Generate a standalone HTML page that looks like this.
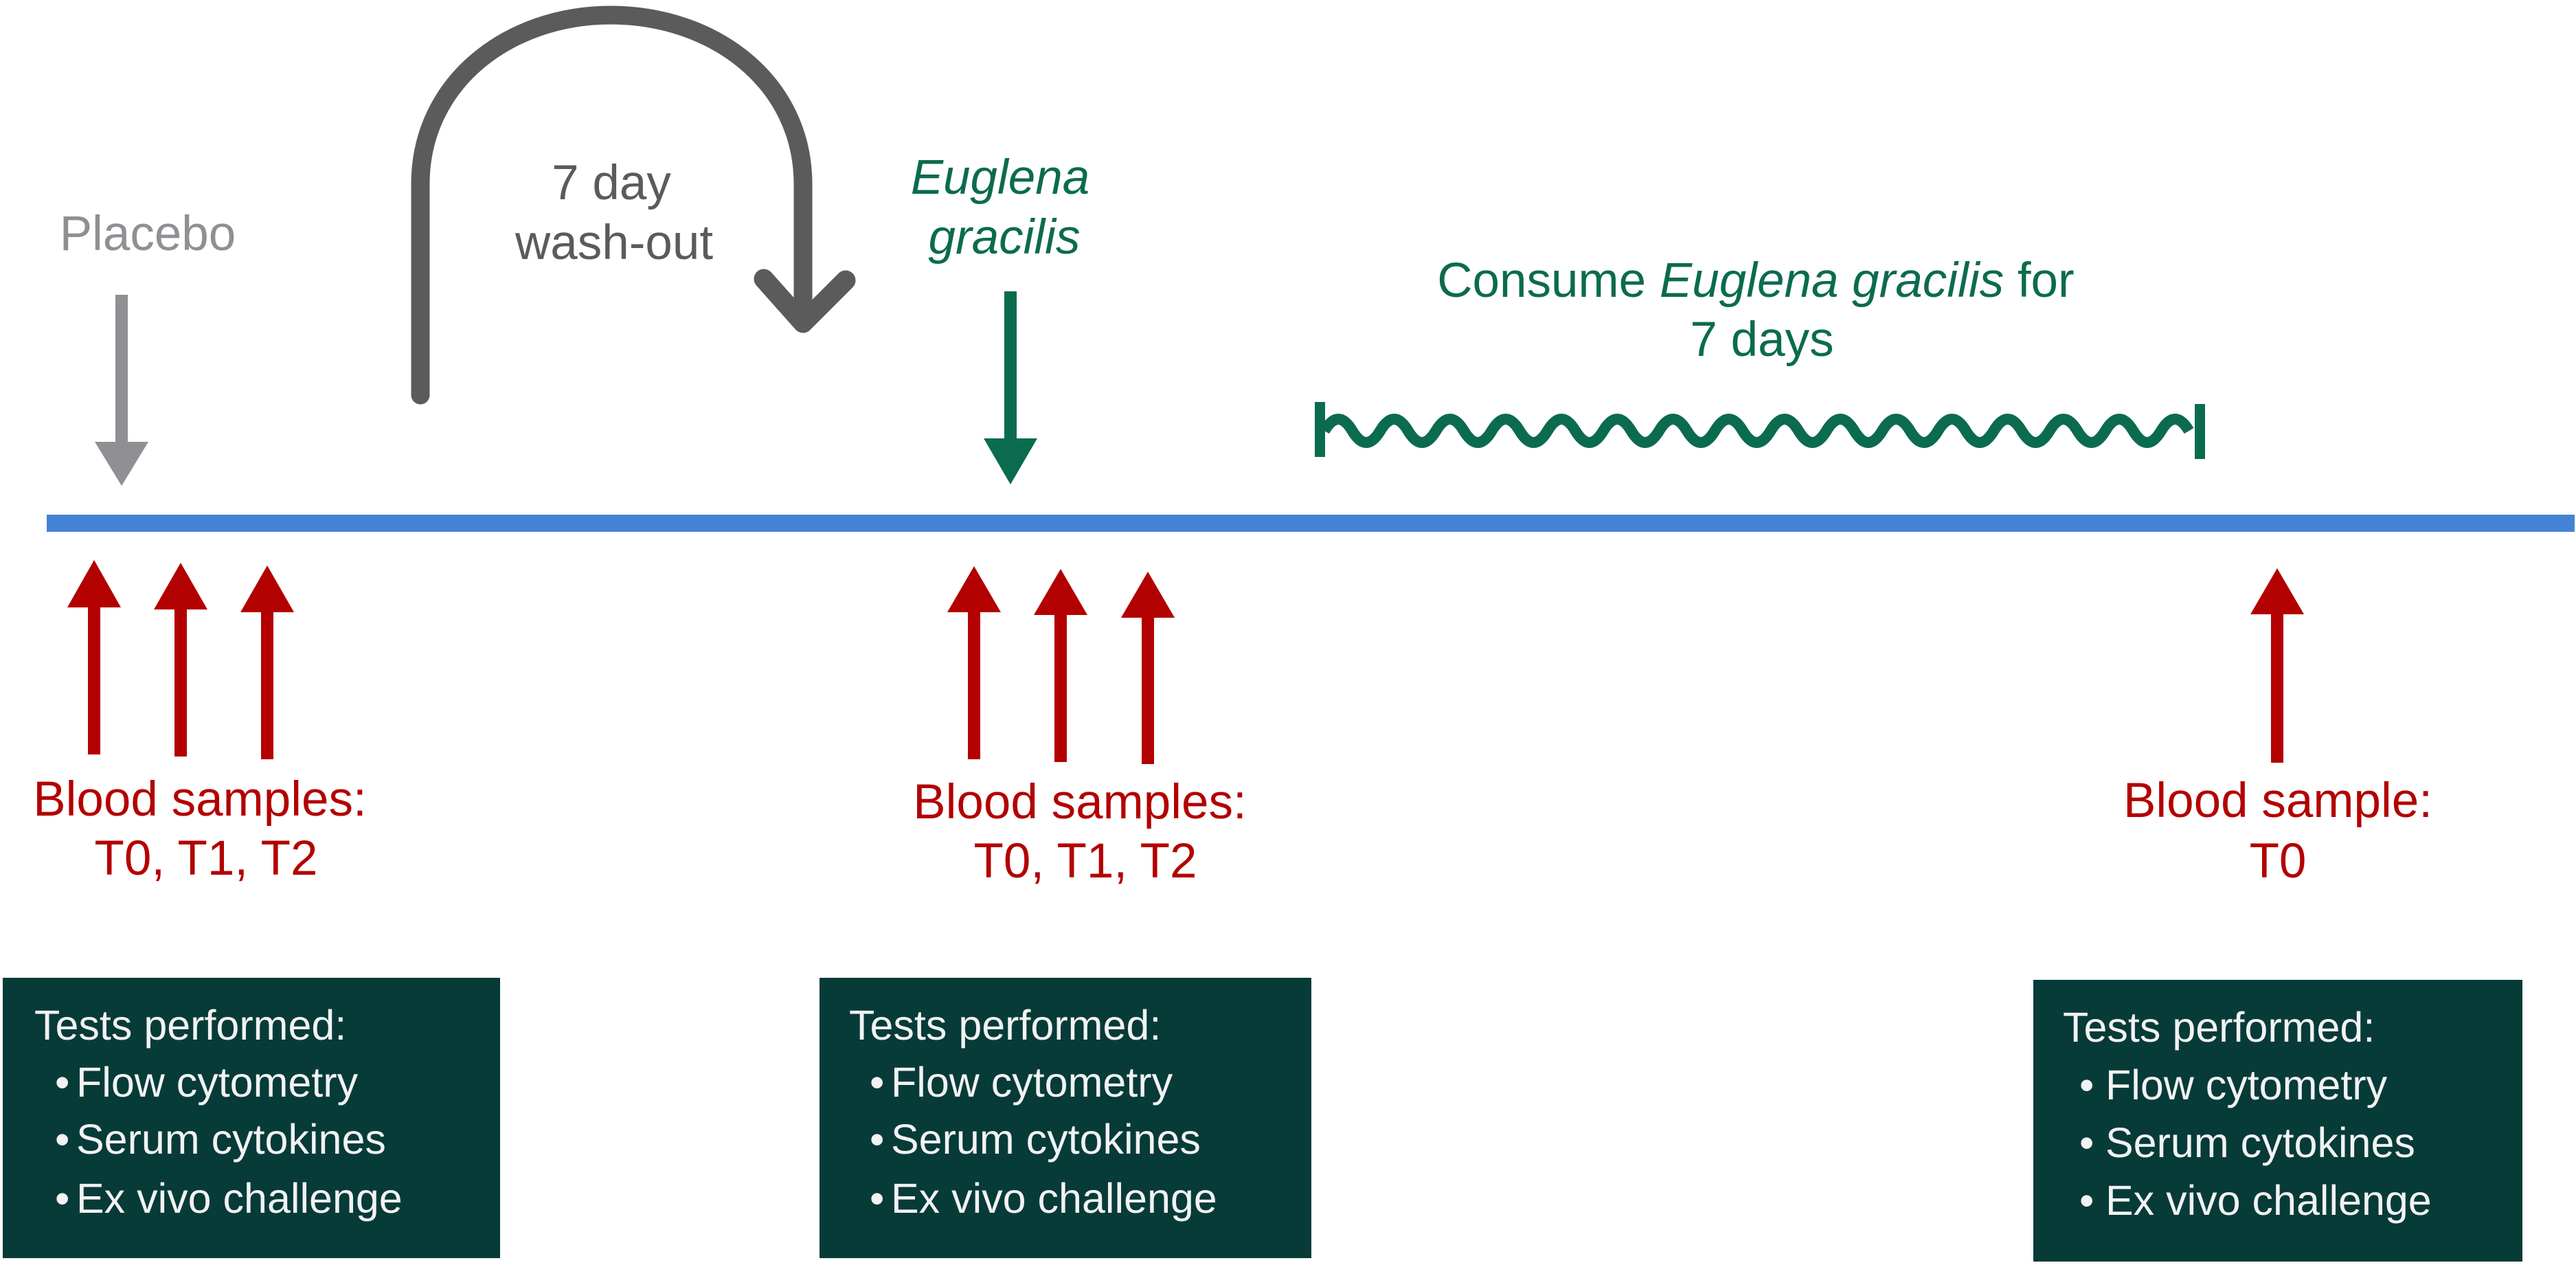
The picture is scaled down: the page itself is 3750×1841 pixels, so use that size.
<!DOCTYPE html>
<html><head><meta charset="utf-8"><style>
html,body{margin:0;padding:0;background:#fff;}
svg{display:block;}
text{font-family:"Liberation Sans",Arial,sans-serif;}
</style></head><body>
<svg width="3750" height="1841" viewBox="0 0 3750 1841" xmlns="http://www.w3.org/2000/svg">
<rect width="3750" height="1841" fill="#fff"/>
<rect x="68" y="749" width="3680" height="25" fill="#4383d6"/>

<text x="215" y="364" font-size="71" fill="#8f8f94" text-anchor="middle">Placebo</text>
<rect x="168" y="429" width="18" height="216" fill="#8f8f94"/>
<polygon points="138,643 216,643 177,707" fill="#8f8f94"/>

<path d="M612 575 L612 268 C612 120 740 22 889 22 C1040 22 1169 120 1169 268 L1169 462" fill="none" stroke="#5b5b5b" stroke-width="27" stroke-linecap="round"/>
<polyline points="1112,406 1169,470 1231,408" fill="none" stroke="#5b5b5b" stroke-width="29" stroke-linecap="round" stroke-linejoin="round"/>
<text x="890" y="290" font-size="71" fill="#5b5b5b" text-anchor="middle">7 day</text>
<text x="894" y="377" font-size="71" fill="#5b5b5b" text-anchor="middle">wash-out</text>

<text x="1456" y="282" font-size="71" fill="#0b6b4f" text-anchor="middle" font-style="italic">Euglena</text>
<text x="1462" y="369" font-size="71" fill="#0b6b4f" text-anchor="middle" font-style="italic">gracilis</text>
<rect x="1462" y="424" width="18" height="216" fill="#0b6b4f"/>
<polygon points="1432,638 1510,638 1471,705" fill="#0b6b4f"/>

<text x="2556" y="432" font-size="71" fill="#0b6b4f" text-anchor="middle">Consume <tspan font-style="italic">Euglena gracilis</tspan> for</text>
<text x="2565" y="518" font-size="71" fill="#0b6b4f" text-anchor="middle">7 days</text>
<rect x="1914" y="585" width="15" height="80" fill="#0b6b4f"/>
<rect x="3195" y="588" width="15" height="80" fill="#0b6b4f"/>
<path d="M1928 627 q20.3 -34 40.6 0 t40.6 0 t40.6 0 t40.6 0 t40.6 0 t40.6 0 t40.6 0 t40.6 0 t40.6 0 t40.6 0 t40.6 0 t40.6 0 t40.6 0 t40.6 0 t40.6 0 t40.6 0 t40.6 0 t40.6 0 t40.6 0 t40.6 0 t40.6 0 t40.6 0 t40.6 0 t40.6 0 t40.6 0 t40.6 0 t40.6 0 t40.6 0 t40.6 0 t40.6 0 t40.6 0" fill="none" stroke="#0b6b4f" stroke-width="16"/>

<g fill="#b30000">
<rect x="128" y="880" width="18" height="218"/><polygon points="98,884 176,884 137,815"/>
<rect x="254" y="883" width="18" height="218"/><polygon points="224,887 302,887 263,819"/>
<rect x="380" y="887" width="18" height="218"/><polygon points="350,891 428,891 389,823"/>
<rect x="1409" y="887" width="18" height="218"/><polygon points="1379,891 1457,891 1418,824"/>
<rect x="1535" y="891" width="18" height="218"/><polygon points="1505,895 1583,895 1544,828"/>
<rect x="1662" y="895" width="18" height="217"/><polygon points="1632,899 1710,899 1671,832"/>
<rect x="3306" y="890" width="18" height="220"/><polygon points="3276,894 3354,894 3315,827"/>
</g>
<g fill="#b30000" font-size="71" text-anchor="middle">
<text x="291" y="1187">Blood samples:</text>
<text x="300" y="1273">T0, T1, T2</text>
<text x="1572" y="1191">Blood samples:</text>
<text x="1580" y="1277">T0, T1, T2</text>
<text x="3316" y="1189">Blood sample:</text>
<text x="3316" y="1277">T0</text>
</g>

<g fill="#073b38">
<rect x="4" y="1423" width="724" height="408"/>
<rect x="1193" y="1423" width="716" height="408"/>
<rect x="2960" y="1426" width="712" height="410"/>
</g>
<g fill="#f2f2f2" font-size="61">
<text x="50" y="1513">Tests performed:</text>
<text x="80" y="1596">•</text><text x="111" y="1596">Flow cytometry</text>
<text x="80" y="1679">•</text><text x="111" y="1679">Serum cytokines</text>
<text x="80" y="1765">•</text><text x="111" y="1765">Ex vivo challenge</text>

<text x="1236" y="1513">Tests performed:</text>
<text x="1266" y="1596">•</text><text x="1297" y="1596">Flow cytometry</text>
<text x="1266" y="1679">•</text><text x="1297" y="1679">Serum cytokines</text>
<text x="1266" y="1765">•</text><text x="1297" y="1765">Ex vivo challenge</text>

<text x="3003" y="1516">Tests performed:</text>
<text x="3027" y="1600">•</text><text x="3065" y="1600">Flow cytometry</text>
<text x="3027" y="1684">•</text><text x="3065" y="1684">Serum cytokines</text>
<text x="3027" y="1768">•</text><text x="3065" y="1768">Ex vivo challenge</text>
</g>
</svg>
</body></html>
